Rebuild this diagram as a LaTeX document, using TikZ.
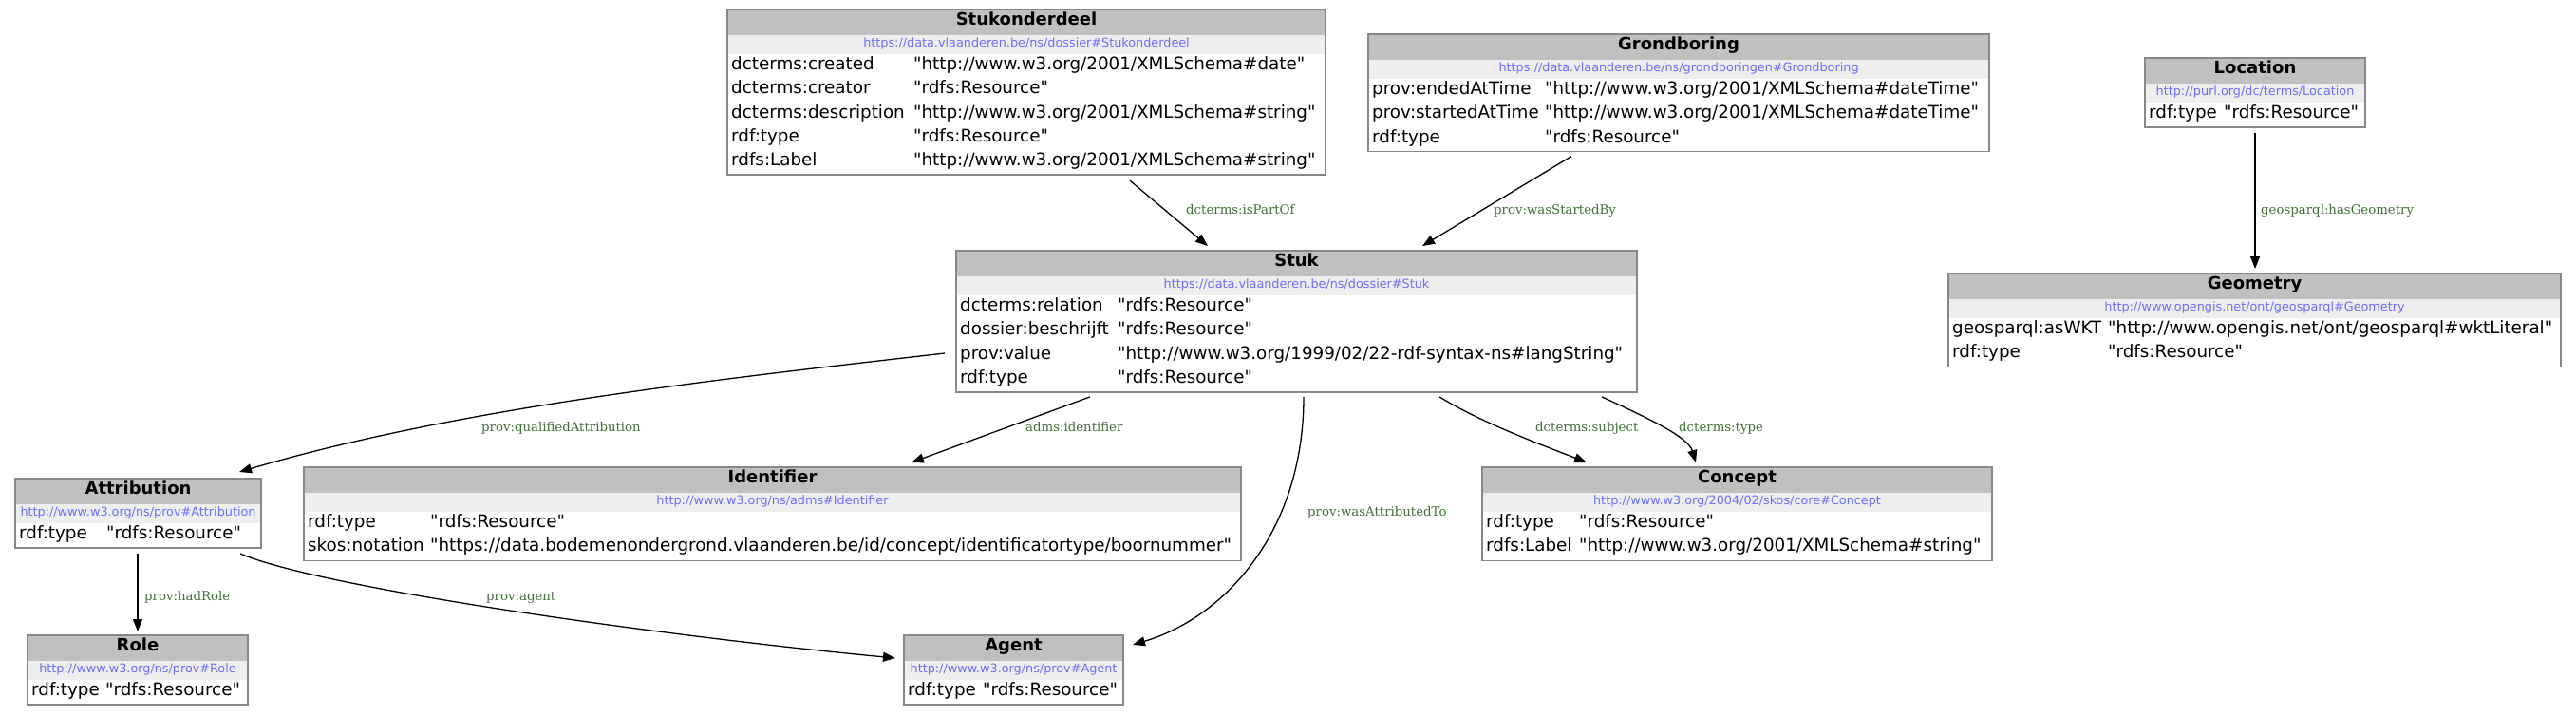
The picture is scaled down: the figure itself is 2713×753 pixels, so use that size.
\documentclass[tikz,border=0pt]{standalone}
\usepackage{fontspec}
\usetikzlibrary{arrows.meta,calc}
\newfontfamily\bodyfont{DejaVu Sans}
\newfontfamily\lblfont{DejaVu Serif}
\definecolor{hdrgray}{RGB}{192,192,192}
\definecolor{urlband}{RGB}{238,238,238}
\definecolor{urlblue}{RGB}{110,110,255}
\definecolor{lblgreen}{RGB}{66,112,56}
\definecolor{bordergray}{RGB}{136,136,136}
\tikzset{
  ebox/.style={draw=bordergray, line width=1.5pt, inner sep=0pt, outer sep=0pt, rectangle},
  hdrfill/.style={fill=hdrgray},
  urlfill/.style={fill=urlband},
  etitle/.style={inner sep=0pt, font=\bodyfont\bfseries\fontsize{18}{20}\selectfont, text height=0.73em, text depth=0.05em},
  eurl/.style={inner sep=0pt, text=urlblue, font=\bodyfont\fontsize{12.8}{14}\selectfont, text height=0.75em, text depth=0.2em},
  ekey/.style={inner sep=0pt, anchor=west, font=\bodyfont\fontsize{18.3}{20}\selectfont, text height=0.75em, text depth=0.22em},
  elabel/.style={inner sep=0pt, anchor=west, text=lblgreen, font=\lblfont\fontsize{13.3}{15}\selectfont, text height=0.75em, text depth=0.24em},
  conn/.style={draw=black, line width=1.3pt, -{Triangle[length=13pt,width=10pt]}},
}
% name, L, R, T, nrows, title, url
\newcommand\entbox[7]{%
  \pgfmathsetmacro\ebw{#3-#2}%
  \pgfmathsetmacro\ebh{73+(#5-1)*25.3}%
  \fill[hdrfill] (#2,#4) rectangle (#3,#4+27);
  \fill[urlfill] (#2,#4+27) rectangle (#3,#4+47);
  \node[ebox, minimum width=\ebw pt, minimum height=\ebh pt, anchor=north west] (#1) at (#2,#4) {};
  \node[etitle] (#1-title) at ({(#2+#3)/2},#4+13.5) {#6};
  \node[eurl] (#1-url) at ({(#2+#3)/2},#4+37) {#7};
}
% name, idx, L, T, valx, key, value
\newcommand\erow[7]{%
  \node[ekey] (#1-k#2) at (#3+4,#4+61+#2*25.3) {#6};
  \node[ekey] (#1-v#2) at (#5,#4+61+#2*25.3) {#7};
}
\begin{document}
\begin{tikzpicture}[x=1pt,y=-1pt]
\fill[white] (0,0) rectangle (2713,753);
\useasboundingbox (0,0) rectangle (2713,753);

% Stukonderdeel
\entbox{stukonderdeel}{766}{1396}{10}{5}{Stukonderdeel}{https://data.vlaanderen.be/ns/dossier\#Stukonderdeel}
\erow{stukonderdeel}{0}{766}{10}{962}{dcterms:created}{"http://www.w3.org/2001/XMLSchema\#date"}
\erow{stukonderdeel}{1}{766}{10}{962}{dcterms:creator}{"rdfs:Resource"}
\erow{stukonderdeel}{2}{766}{10}{962}{dcterms:description}{"http://www.w3.org/2001/XMLSchema\#string"}
\erow{stukonderdeel}{3}{766}{10}{962}{rdf:type}{"rdfs:Resource"}
\erow{stukonderdeel}{4}{766}{10}{962}{rdfs:Label}{"http://www.w3.org/2001/XMLSchema\#string"}

% Grondboring
\entbox{grondboring}{1441}{2095}{36}{3}{Grondboring}{https://data.vlaanderen.be/ns/grondboringen\#Grondboring}
\erow{grondboring}{0}{1441}{36}{1627}{prov:endedAtTime}{"http://www.w3.org/2001/XMLSchema\#dateTime"}
\erow{grondboring}{1}{1441}{36}{1627}{prov:startedAtTime}{"http://www.w3.org/2001/XMLSchema\#dateTime"}
\erow{grondboring}{2}{1441}{36}{1627}{rdf:type}{"rdfs:Resource"}

% Location
\entbox{location}{2259}{2491}{61}{1}{Location}{http://purl.org/dc/terms/Location}
\erow{location}{0}{2259}{61}{2342}{rdf:type}{"rdfs:Resource"}

% Geometry
\entbox{geometry}{2052}{2697}{288}{2}{Geometry}{http://www.opengis.net/ont/geosparql\#Geometry}
\erow{geometry}{0}{2052}{288}{2220}{geosparql:asWKT}{"http://www.opengis.net/ont/geosparql\#wktLiteral"}
\erow{geometry}{1}{2052}{288}{2220}{rdf:type}{"rdfs:Resource"}

% Stuk
\entbox{stuk}{1007}{1724}{264}{4}{Stuk}{https://data.vlaanderen.be/ns/dossier\#Stuk}
\erow{stuk}{0}{1007}{264}{1177}{dcterms:relation}{"rdfs:Resource"}
\erow{stuk}{1}{1007}{264}{1177}{dossier:beschrijft}{"rdfs:Resource"}
\erow{stuk}{2}{1007}{264}{1177}{prov:value}{"http://www.w3.org/1999/02/22-rdf-syntax-ns\#langString"}
\erow{stuk}{3}{1007}{264}{1177}{rdf:type}{"rdfs:Resource"}

% Attribution
\entbox{attribution}{16}{275}{504}{1}{Attribution}{http://www.w3.org/ns/prov\#Attribution}
\erow{attribution}{0}{16}{504}{112}{rdf:type}{"rdfs:Resource"}

% Identifier
\entbox{identifier}{320}{1307}{492}{2}{Identifier}{http://www.w3.org/ns/adms\#Identifier}
\erow{identifier}{0}{320}{492}{453}{rdf:type}{"rdfs:Resource"}
\erow{identifier}{1}{320}{492}{453}{skos:notation}{"https://data.bodemenondergrond.vlaanderen.be/id/concept/identificatortype/boornummer"}

% Concept
\entbox{concept}{1561}{2098}{492}{2}{Concept}{http://www.w3.org/2004/02/skos/core\#Concept}
\erow{concept}{0}{1561}{492}{1663}{rdf:type}{"rdfs:Resource"}
\erow{concept}{1}{1561}{492}{1663}{rdfs:Label}{"http://www.w3.org/2001/XMLSchema\#string"}

% Role
\entbox{role}{29}{261}{669}{1}{Role}{http://www.w3.org/ns/prov\#Role}
\erow{role}{0}{29}{669}{111}{rdf:type}{"rdfs:Resource"}

% Agent
\entbox{agent}{952}{1183}{669}{1}{Agent}{http://www.w3.org/ns/prov\#Agent}
\erow{agent}{0}{952}{669}{1035}{rdf:type}{"rdfs:Resource"}

% Connectors
\draw[conn] ($(stukonderdeel.south west)+(424,6)$) -- ($(stuk.north west)+(265,-5)$);
\node[elabel] (l-ispartof) at (1249,223) {dcterms:isPartOf};

\draw[conn] ($(grondboring.south west)+(214,5)$) -- ($(stuk.north west)+(491,-5)$);
\node[elabel] (l-started) at (1573,223) {prov:wasStartedBy};

\draw[conn] ($(location.south west)+(116,6)$) -- ($(geometry.north west)+(323,-5)$);
\node[elabel] (l-geom) at (2381,223) {geosparql:hasGeometry};

\draw[conn] ($(stuk.north west)+(-12,108)$) .. controls (750,400) and (480,430) .. ($(attribution.north west)+(236,-7)$);
\node[elabel] (l-qual) at (507,452) {prov:qualifiedAttribution};

\draw[conn] ($(stuk.south west)+(141,5)$) -- ($(identifier.north west)+(640,-5)$);
\node[elabel] (l-ident) at (1080,452) {adms:identifier};

\draw[conn] ($(stuk.south west)+(366,5)$) .. controls (1373,560) and (1290,650) .. ($(agent.north east)+(10,10)$);
\node[elabel] (l-attr) at (1377,541) {prov:wasAttributedTo};

\draw[conn] ($(stuk.south west)+(509,5)$) .. controls (1560,445) and (1620,467) .. ($(concept.north west)+(110,-5)$);
\node[elabel] (l-subj) at (1617,452) {dcterms:subject};

\draw[conn] ($(stuk.south west)+(680,5)$) .. controls (1735,440) and (1778,460) .. ($(concept.north west)+(225,-5)$);
\node[elabel] (l-type) at (1768,452) {dcterms:type};

\draw[conn] ($(attribution.south west)+(129,6)$) -- ($(role.north west)+(116,-4)$);
\node[elabel] (l-role) at (152,630) {prov:hadRole};

\draw[conn] ($(attribution.south west)+(237,6)$) .. controls (340,620) and (700,670) .. ($(agent.north west)+(-9,24)$);
\node[elabel] (l-agent) at (512,630) {prov:agent};
\end{tikzpicture}
\end{document}
